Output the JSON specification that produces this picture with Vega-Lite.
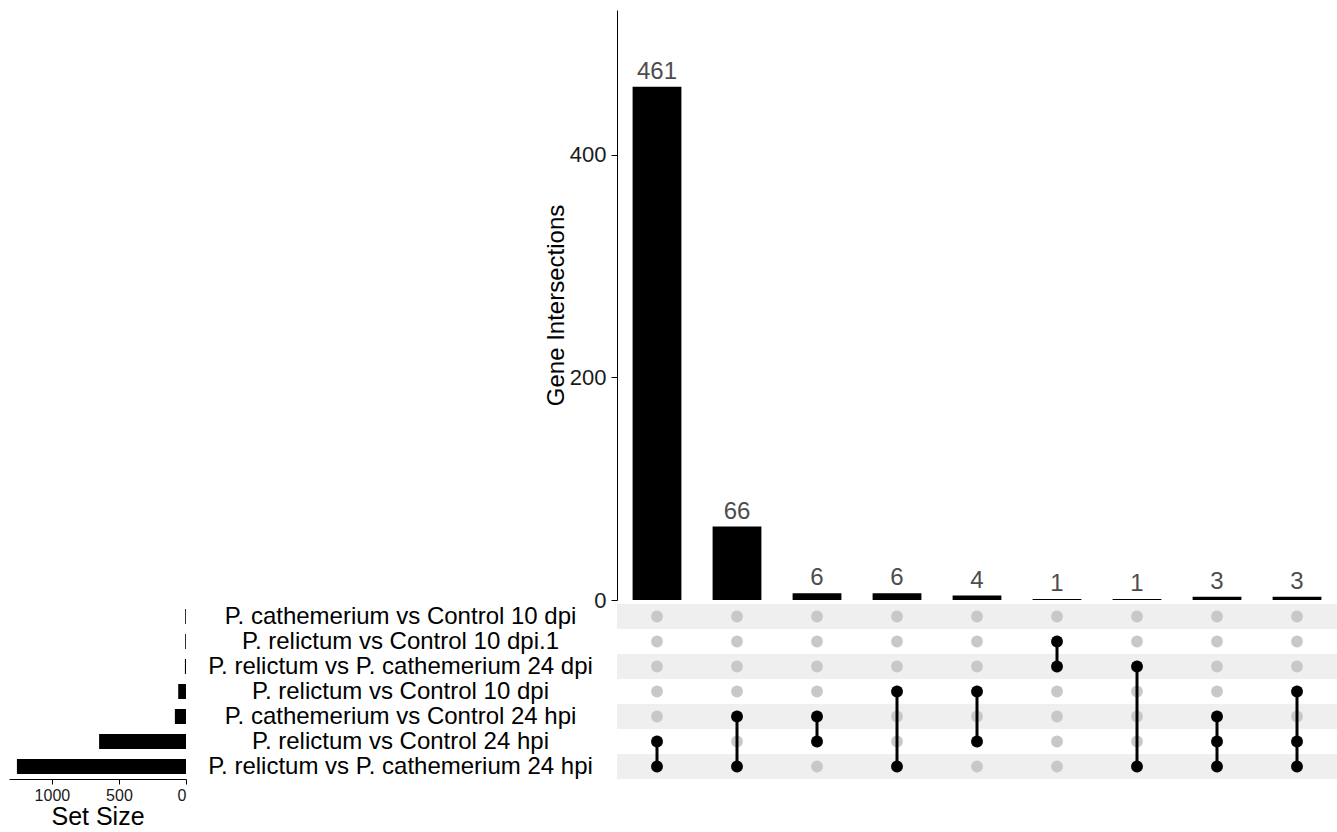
{
  "$schema": "https://vega.github.io/schema/vega-lite/v6.json",
  "padding": {"left": 9, "top": 10, "right": 0, "bottom": 0},
  "autosize": {"type": "pad"},
  "background": "#ffffff",
  "config": {
    "font": "Liberation Sans",
    "view": {"stroke": null},
    "axis": {"grid": false, "domainColor": "#000000", "tickColor": "#000000", "labelColor": "#1a1a1a", "titleColor": "#000000", "titleFontWeight": "normal", "labelFont": "Liberation Sans", "titleFont": "Liberation Sans"}
  },
  "datasets": {
    "inter": [
      {"i": 1, "n": 461}, {"i": 2, "n": 66}, {"i": 3, "n": 6}, {"i": 4, "n": 6}, {"i": 5, "n": 4},
      {"i": 6, "n": 1}, {"i": 7, "n": 1}, {"i": 8, "n": 3}, {"i": 9, "n": 3}
    ],
    "sets": [
      {"s": "P. cathemerium vs Control 10 dpi", "size": 6},
      {"s": "P. relictum vs Control 10 dpi.1", "size": 6},
      {"s": "P. relictum vs P. cathemerium 24 dpi", "size": 8},
      {"s": "P. relictum vs Control 10 dpi", "size": 58},
      {"s": "P. cathemerium vs Control 24 hpi", "size": 83},
      {"s": "P. relictum vs Control 24 hpi", "size": 648},
      {"s": "P. relictum vs P. cathemerium 24 hpi", "size": 1261}
    ],
    "stripes": [
      {"s": "P. cathemerium vs Control 10 dpi"},
      {"s": "P. relictum vs P. cathemerium 24 dpi"},
      {"s": "P. cathemerium vs Control 24 hpi"},
      {"s": "P. relictum vs P. cathemerium 24 hpi"}
    ],
    "links": [
      {"i": 1, "from": "P. relictum vs Control 24 hpi", "to": "P. relictum vs P. cathemerium 24 hpi"},
      {"i": 2, "from": "P. cathemerium vs Control 24 hpi", "to": "P. relictum vs P. cathemerium 24 hpi"},
      {"i": 3, "from": "P. cathemerium vs Control 24 hpi", "to": "P. relictum vs Control 24 hpi"},
      {"i": 4, "from": "P. relictum vs Control 10 dpi", "to": "P. relictum vs P. cathemerium 24 hpi"},
      {"i": 5, "from": "P. relictum vs Control 10 dpi", "to": "P. relictum vs Control 24 hpi"},
      {"i": 6, "from": "P. relictum vs Control 10 dpi.1", "to": "P. relictum vs P. cathemerium 24 dpi"},
      {"i": 7, "from": "P. relictum vs P. cathemerium 24 dpi", "to": "P. relictum vs P. cathemerium 24 hpi"},
      {"i": 8, "from": "P. cathemerium vs Control 24 hpi", "to": "P. relictum vs P. cathemerium 24 hpi"},
      {"i": 9, "from": "P. relictum vs Control 10 dpi", "to": "P. relictum vs P. cathemerium 24 hpi"}
    ],
    "cells": [
      {"i": 1, "s": "P. cathemerium vs Control 10 dpi", "m": 0},
      {"i": 1, "s": "P. relictum vs Control 10 dpi.1", "m": 0},
      {"i": 1, "s": "P. relictum vs P. cathemerium 24 dpi", "m": 0},
      {"i": 1, "s": "P. relictum vs Control 10 dpi", "m": 0},
      {"i": 1, "s": "P. cathemerium vs Control 24 hpi", "m": 0},
      {"i": 1, "s": "P. relictum vs Control 24 hpi", "m": 1},
      {"i": 1, "s": "P. relictum vs P. cathemerium 24 hpi", "m": 1},
      {"i": 2, "s": "P. cathemerium vs Control 10 dpi", "m": 0},
      {"i": 2, "s": "P. relictum vs Control 10 dpi.1", "m": 0},
      {"i": 2, "s": "P. relictum vs P. cathemerium 24 dpi", "m": 0},
      {"i": 2, "s": "P. relictum vs Control 10 dpi", "m": 0},
      {"i": 2, "s": "P. cathemerium vs Control 24 hpi", "m": 1},
      {"i": 2, "s": "P. relictum vs Control 24 hpi", "m": 0},
      {"i": 2, "s": "P. relictum vs P. cathemerium 24 hpi", "m": 1},
      {"i": 3, "s": "P. cathemerium vs Control 10 dpi", "m": 0},
      {"i": 3, "s": "P. relictum vs Control 10 dpi.1", "m": 0},
      {"i": 3, "s": "P. relictum vs P. cathemerium 24 dpi", "m": 0},
      {"i": 3, "s": "P. relictum vs Control 10 dpi", "m": 0},
      {"i": 3, "s": "P. cathemerium vs Control 24 hpi", "m": 1},
      {"i": 3, "s": "P. relictum vs Control 24 hpi", "m": 1},
      {"i": 3, "s": "P. relictum vs P. cathemerium 24 hpi", "m": 0},
      {"i": 4, "s": "P. cathemerium vs Control 10 dpi", "m": 0},
      {"i": 4, "s": "P. relictum vs Control 10 dpi.1", "m": 0},
      {"i": 4, "s": "P. relictum vs P. cathemerium 24 dpi", "m": 0},
      {"i": 4, "s": "P. relictum vs Control 10 dpi", "m": 1},
      {"i": 4, "s": "P. cathemerium vs Control 24 hpi", "m": 0},
      {"i": 4, "s": "P. relictum vs Control 24 hpi", "m": 0},
      {"i": 4, "s": "P. relictum vs P. cathemerium 24 hpi", "m": 1},
      {"i": 5, "s": "P. cathemerium vs Control 10 dpi", "m": 0},
      {"i": 5, "s": "P. relictum vs Control 10 dpi.1", "m": 0},
      {"i": 5, "s": "P. relictum vs P. cathemerium 24 dpi", "m": 0},
      {"i": 5, "s": "P. relictum vs Control 10 dpi", "m": 1},
      {"i": 5, "s": "P. cathemerium vs Control 24 hpi", "m": 0},
      {"i": 5, "s": "P. relictum vs Control 24 hpi", "m": 1},
      {"i": 5, "s": "P. relictum vs P. cathemerium 24 hpi", "m": 0},
      {"i": 6, "s": "P. cathemerium vs Control 10 dpi", "m": 0},
      {"i": 6, "s": "P. relictum vs Control 10 dpi.1", "m": 1},
      {"i": 6, "s": "P. relictum vs P. cathemerium 24 dpi", "m": 1},
      {"i": 6, "s": "P. relictum vs Control 10 dpi", "m": 0},
      {"i": 6, "s": "P. cathemerium vs Control 24 hpi", "m": 0},
      {"i": 6, "s": "P. relictum vs Control 24 hpi", "m": 0},
      {"i": 6, "s": "P. relictum vs P. cathemerium 24 hpi", "m": 0},
      {"i": 7, "s": "P. cathemerium vs Control 10 dpi", "m": 0},
      {"i": 7, "s": "P. relictum vs Control 10 dpi.1", "m": 0},
      {"i": 7, "s": "P. relictum vs P. cathemerium 24 dpi", "m": 1},
      {"i": 7, "s": "P. relictum vs Control 10 dpi", "m": 0},
      {"i": 7, "s": "P. cathemerium vs Control 24 hpi", "m": 0},
      {"i": 7, "s": "P. relictum vs Control 24 hpi", "m": 0},
      {"i": 7, "s": "P. relictum vs P. cathemerium 24 hpi", "m": 1},
      {"i": 8, "s": "P. cathemerium vs Control 10 dpi", "m": 0},
      {"i": 8, "s": "P. relictum vs Control 10 dpi.1", "m": 0},
      {"i": 8, "s": "P. relictum vs P. cathemerium 24 dpi", "m": 0},
      {"i": 8, "s": "P. relictum vs Control 10 dpi", "m": 0},
      {"i": 8, "s": "P. cathemerium vs Control 24 hpi", "m": 1},
      {"i": 8, "s": "P. relictum vs Control 24 hpi", "m": 1},
      {"i": 8, "s": "P. relictum vs P. cathemerium 24 hpi", "m": 1},
      {"i": 9, "s": "P. cathemerium vs Control 10 dpi", "m": 0},
      {"i": 9, "s": "P. relictum vs Control 10 dpi.1", "m": 0},
      {"i": 9, "s": "P. relictum vs P. cathemerium 24 dpi", "m": 0},
      {"i": 9, "s": "P. relictum vs Control 10 dpi", "m": 1},
      {"i": 9, "s": "P. cathemerium vs Control 24 hpi", "m": 0},
      {"i": 9, "s": "P. relictum vs Control 24 hpi", "m": 1},
      {"i": 9, "s": "P. relictum vs P. cathemerium 24 hpi", "m": 1}
    ]
  },
  "columns": 2,
  "spacing": {"row": 4, "column": 431},
  "bounds": "flush",
  "align": "each",
  "concat": [
    {
      "width": 177, "height": 590,
      "data": {"values": [{"a": 1}]},
      "mark": {"type": "point", "opacity": 0},
      "encoding": {}
    },
    {
      "width": 720, "height": 590,
      "data": {"name": "inter"},
      "encoding": {
        "x": {"field": "i", "type": "ordinal", "scale": {"paddingInner": 0.39, "paddingOuter": 0.195}, "axis": null}
      },
      "layer": [
        {
          "mark": {"type": "bar", "color": "#000000"},
          "encoding": {
            "y": {"field": "n", "type": "quantitative", "scale": {"domain": [0, 530], "nice": false},
              "axis": {"values": [0, 200, 400], "title": "Gene Intersections", "labelFontSize": 22, "titleFontSize": 24, "tickSize": 6, "labelPadding": 5, "titlePadding": 1}}
          }
        },
        {
          "mark": {"type": "text", "baseline": "bottom", "dy": -3, "fontSize": 24, "color": "#4d4d4d"},
          "encoding": {
            "y": {"field": "n", "type": "quantitative"},
            "text": {"field": "n"}
          }
        }
      ]
    },
    {
      "width": 177, "height": 175,
      "data": {"name": "sets"},
      "mark": {"type": "bar", "color": "#000000"},
      "encoding": {
        "y": {"field": "s", "type": "nominal", "scale": {"domain": ["P. cathemerium vs Control 10 dpi", "P. relictum vs Control 10 dpi.1", "P. relictum vs P. cathemerium 24 dpi", "P. relictum vs Control 10 dpi", "P. cathemerium vs Control 24 hpi", "P. relictum vs Control 24 hpi", "P. relictum vs P. cathemerium 24 hpi"], "paddingInner": 0.4, "paddingOuter": 0.2}, "axis": null},
        "x": {"field": "size", "type": "quantitative", "scale": {"domain": [0, 1320], "reverse": true, "nice": false},
          "axis": {"values": [0, 500, 1000], "format": "d", "title": "Set Size", "labelFontSize": 16, "titleFontSize": 25, "tickSize": 5, "labelPadding": 3, "titlePadding": 1}}
      }
    },
    {
      "width": 720, "height": 175,
      "layer": [
        {
          "data": {"name": "stripes"},
          "mark": {"type": "rect", "color": "#efefef"},
          "encoding": {
            "y": {"field": "s", "type": "nominal", "scale": {"domain": ["P. cathemerium vs Control 10 dpi", "P. relictum vs Control 10 dpi.1", "P. relictum vs P. cathemerium 24 dpi", "P. relictum vs Control 10 dpi", "P. cathemerium vs Control 24 hpi", "P. relictum vs Control 24 hpi", "P. relictum vs P. cathemerium 24 hpi"], "paddingInner": 0, "paddingOuter": 0},
              "axis": {"title": null, "domain": false, "ticks": false, "tickSize": 0, "labelPadding": 217, "labelAlign": "center", "labelFontSize": 24, "labelColor": "#000000", "labelLimit": 0, "labelOverlap": false, "labelBound": false}}
          }
        },
        {
          "data": {"name": "cells"},
          "mark": {"type": "point", "filled": true, "size": 140, "color": "#c8c8c8", "opacity": 1},
          "encoding": {
            "x": {"field": "i", "type": "ordinal", "scale": {"paddingInner": 0.39, "paddingOuter": 0.195}, "axis": null},
            "y": {"field": "s", "type": "nominal"}
          }
        },
        {
          "data": {"name": "links"},
          "mark": {"type": "rule", "color": "#000000", "strokeWidth": 3},
          "encoding": {
            "x": {"field": "i", "type": "ordinal"},
            "y": {"field": "from", "type": "nominal"},
            "y2": {"field": "to"}
          }
        },
        {
          "data": {"name": "cells"},
          "transform": [{"filter": "datum.m == 1"}],
          "mark": {"type": "point", "filled": true, "size": 140, "color": "#000000", "opacity": 1},
          "encoding": {
            "x": {"field": "i", "type": "ordinal"},
            "y": {"field": "s", "type": "nominal"}
          }
        }
      ]
    }
  ]
}
